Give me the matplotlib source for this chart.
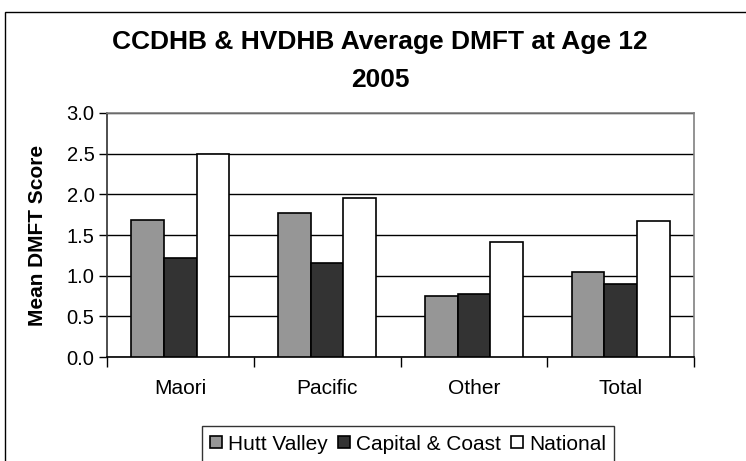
import matplotlib.pyplot as plt
import numpy as np
from matplotlib.patches import Rectangle

plt.rcParams['font.family'] = ['Liberation Sans', 'DejaVu Sans']

categories = ["Maori", "Pacific", "Other", "Total"]
series_names = ["Hutt Valley", "Capital & Coast", "National"]
hutt_valley = [1.69, 1.77, 0.75, 1.04]
capital_coast = [1.22, 1.16, 0.78, 0.90]
national = [2.49, 1.95, 1.42, 1.67]
colours = ["#969696", "#333333", "#ffffff"]

W, H = 746, 461
fig = plt.figure(figsize=(W / 100, H / 100), dpi=100)

# outer chart border (right and bottom edges are cut off in the original)
fig.patches.append(Rectangle((5 / W, -0.1), 1.2, 1 - 12 / H + 0.1, transform=fig.transFigure,
                             fill=False, edgecolor="black", linewidth=1.0))

ax = fig.add_axes([107 / W, 1 - 357 / H, (694 - 107) / W, (357 - 113) / H])

x = np.arange(len(categories))
bw = 1 / 4.5
series = [hutt_valley, capital_coast, national]
handles = []
for i, vals in enumerate(series):
    b = ax.bar(x + (i - 1) * bw, vals, bw, color=colours[i], edgecolor="black",
               linewidth=1.2, label=series_names[i], zorder=3)
    handles.append(b)

ax.set_xlim(-0.5, len(categories) - 0.5)
ax.set_ylim(0, 3.0)
ax.set_yticks(np.arange(0, 3.01, 0.5))
ax.set_yticklabels([f"{v:.1f}" for v in np.arange(0, 3.01, 0.5)], fontsize=14.5)
ax.yaxis.grid(True, color="black", linewidth=1.0, zorder=0)

ax.set_xticks(x)
ax.set_xticklabels(categories, fontsize=15)
ax.tick_params(axis="x", length=0, pad=16)
ax.set_xticks(np.arange(-0.5, len(categories), 1), minor=True)
ax.tick_params(axis="x", which="minor", length=7, width=1, direction="out")
ax.tick_params(axis="y", length=6, width=1, direction="out", pad=3)

ax.spines["top"].set_color("#808080")
ax.spines["right"].set_color("#808080")
ax.spines["left"].set_color("#303030")
ax.spines["bottom"].set_color("black")
for s in ax.spines.values():
    s.set_linewidth(1.2)

fig.text(38 / W, 1 - 235 / H, "Mean DMFT Score", rotation=90, ha="center", va="center",
         fontsize=15, fontweight="bold")
fig.text(380 / W, 1 - 42 / H, "CCDHB & HVDHB Average DMFT at Age 12", ha="center",
         va="center", fontsize=19, fontweight="bold")
fig.text(380 / W, 1 - 80 / H, "2005", ha="center", va="center", fontsize=19,
         fontweight="bold")

leg = fig.legend(handles=handles, loc="center", bbox_to_anchor=(408 / W, 1 - 444 / H),
                 ncol=3, fontsize=15, frameon=True, fancybox=False, edgecolor="black",
                 handlelength=0.55, handleheight=0.55, handletextpad=0.3, columnspacing=0.5,
                 borderpad=0.4, borderaxespad=0)
leg.get_frame().set_linewidth(1.0)

fig.savefig("out.png", dpi=100)
